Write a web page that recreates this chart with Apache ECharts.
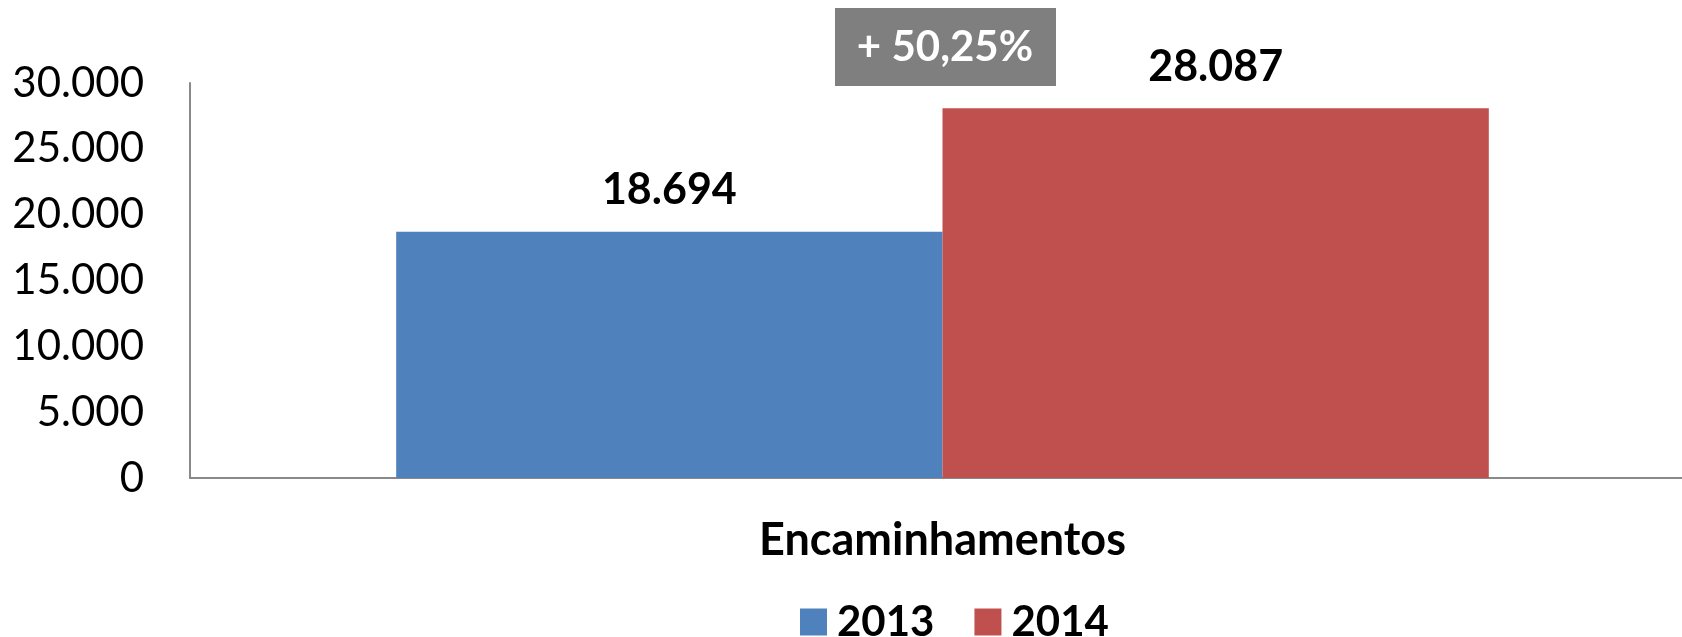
<!DOCTYPE html>
<html>
<head>
<meta charset="utf-8">
<script src="https://cdn.jsdelivr.net/npm/echarts@6/dist/echarts.min.js"></script>
<style>
  html, body { margin: 0; padding: 0; background: #fff; }
  #chart { width: 1682px; height: 637px; }
</style>
</head>
<body>
<div id="chart"></div>
<script>
  // dados
  var categorias = ['Encaminhamentos'];
  var anos = ['2013', '2014'];
  var valores2013 = [18694];
  var valores2014 = [28087];
  var variacao = '+ 50,25%';
  var cores = ['#4F81BD', '#C0504D'];

  var fonte = 'Lato, "Open Sans", sans-serif';

  function milhar(v) {  // 28087 -> 28.087
    return String(v).replace(/\B(?=(\d{3})+(?!\d))/g, '.');
  }

  var chart = echarts.init(document.getElementById('chart'));

  var rotulo = {
    show: true,
    position: 'top',
    distance: 20,
    fontFamily: fonte,
    fontWeight: 'bold',
    fontSize: 43,
    color: '#000',
    formatter: function (p) { return milhar(p.value); }
  };

  var option = {
    animation: false,
    color: cores,
    // a grade passa da borda direita, como no original
    grid: { left: 190, top: 83, width: 1505, height: 395, containLabel: false, outerBoundsMode: 'none' },
    legend: {
      data: anos,
      top: 596,
      left: 795,
      itemWidth: 27,
      itemHeight: 27,
      itemGap: 40,
      icon: 'rect',
      textStyle: { fontFamily: fonte, fontWeight: 'bold', fontSize: 42, color: '#000', padding: [0, 0, 0, 5] }
    },
    xAxis: {
      type: 'category',
      data: categorias,
      axisLine: { lineStyle: { color: '#898989', width: 2 } },
      axisTick: { show: false },
      axisLabel: { margin: 40, lineHeight: 45, fontFamily: fonte, fontWeight: 'bold', fontSize: 45, color: '#000' }
    },
    yAxis: {
      type: 'value',
      min: 0,
      max: 30000,
      interval: 5000,
      axisLine: { show: true, lineStyle: { color: '#898989', width: 2 } },
      axisTick: { show: false },
      splitLine: { show: false },
      axisLabel: { margin: 46, fontFamily: fonte, fontSize: 42, color: '#000', formatter: milhar }
    },
    series: [
      { name: anos[0], type: 'bar', data: valores2013, barGap: '0%', barCategoryGap: '27.4%', label: rotulo },
      { name: anos[1], type: 'bar', data: valores2014, barGap: '0%', barCategoryGap: '27.4%', label: rotulo }
    ],
    graphic: [
      {
        type: 'group',
        left: 835,
        top: 8,
        children: [
          { type: 'rect', shape: { x: 0, y: 0, width: 221, height: 78 }, style: { fill: '#7F7F7F' } },
          {
            type: 'text',
            x: 110,
            y: 39,
            style: {
              text: variacao,
              fill: '#fff',
              fontFamily: fonte,
              fontWeight: 'bold',
              fontSize: 42,
              align: 'center',
              verticalAlign: 'middle'
            }
          }
        ]
      }
    ]
  };

  chart.setOption(option);
</script>
</body>
</html>
